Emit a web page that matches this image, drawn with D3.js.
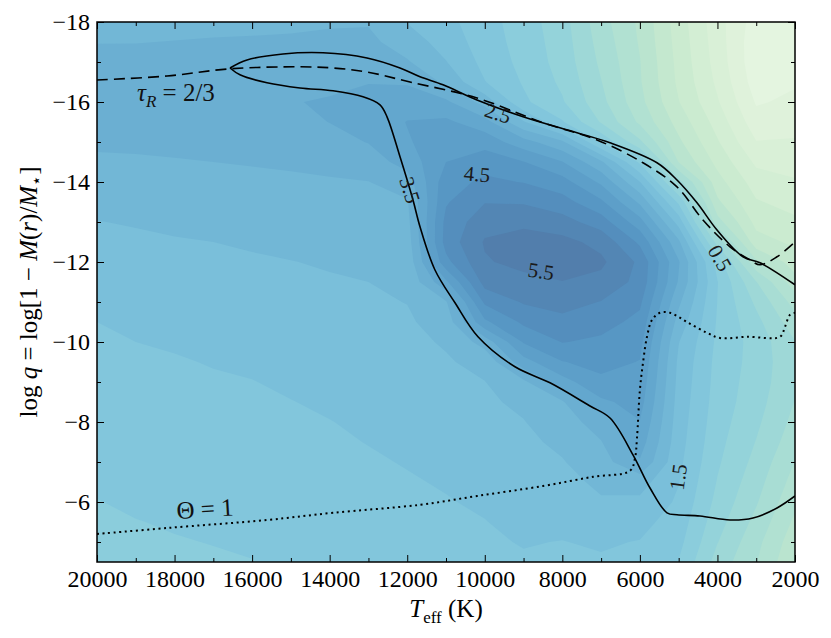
<!DOCTYPE html>
<html>
<head>
<meta charset="utf-8">
<title>log q versus Teff</title>
<script src="https://cdn.jsdelivr.net/npm/d3@7/dist/d3.min.js"></script>
<style>
  html, body { margin: 0; padding: 0; background: #ffffff; }
  svg { display: block; }
  svg text { font-family: 'Liberation Serif', 'DejaVu Serif', 'Times New Roman', serif; }
</style>
</head>
<body>
<svg id="chart"></svg>
<script>
'use strict';

// grid the shaded field was read on: one column per Teff (K), one row per log q
var teffGrid = [20000, 19000, 18000, 17000, 16000, 15000, 14000, 13000, 12000, 11000,
                10000, 9000, 8000, 7000, 6000, 5000, 4000, 3000, 2000];
var logqGrid = [-18, -17.5, -17, -16.5, -16, -15.5, -15, -14.5, -14, -13.5, -13, -12.5, -12, -11.5,
                -11, -10.5, -10, -9.5, -9, -8.5, -8, -7.5, -7, -6.5, -6, -5.5, -5, -4.5];

// estimated field values, row by row (same order as logqGrid)
var fieldRows = [
    [2.35, 2.38, 2.38, 2.40, 2.41, 2.42, 2.45, 2.46, 1.98, 1.65, 1.20, 0.75, 0.20, -0.80, -1.60, -2.75, -3.80, -4.75, -4.80],
    [2.49, 2.49, 2.51, 2.53, 2.54, 2.56, 2.60, 2.62, 2.25, 1.80, 1.25, 0.80, 0.25, -0.70, -1.55, -2.70, -3.75, -4.85, -4.80],
    [2.61, 2.62, 2.64, 2.66, 2.68, 2.70, 2.75, 2.80, 2.55, 2.02, 1.35, 0.85, 0.30, -0.60, -1.48, -2.65, -3.70, -4.85, -4.70],
    [2.73, 2.75, 2.77, 2.79, 2.81, 2.84, 2.90, 2.98, 2.95, 2.40, 1.52, 0.95, 0.40, -0.48, -1.45, -2.60, -3.60, -4.75, -4.55],
    [2.85, 2.87, 2.90, 2.92, 2.95, 2.98, 3.04, 3.18, 3.25, 3.10, 2.30, 1.10, 0.55, -0.35, -1.35, -2.48, -3.45, -4.55, -4.40],
    [2.71, 2.73, 2.76, 2.78, 2.81, 2.84, 3.01, 3.15, 3.52, 3.60, 3.20, 2.05, 1.05, -0.05, -1.10, -2.20, -3.20, -4.30, -4.20],
    [2.57, 2.59, 2.61, 2.64, 2.67, 2.70, 2.83, 3.02, 3.45, 3.80, 3.80, 3.20, 2.60, 0.95, -0.40, -1.90, -2.95, -3.98, -3.95],
    [2.43, 2.44, 2.47, 2.50, 2.53, 2.56, 2.61, 2.75, 3.20, 4.00, 4.30, 4.02, 3.52, 2.60, 0.90, -1.52, -2.65, -3.60, -3.70],
    [2.28, 2.31, 2.34, 2.38, 2.40, 2.43, 2.46, 2.49, 2.75, 4.30, 4.60, 4.48, 4.20, 3.40, 2.02, -0.30, -2.30, -3.25, -3.45],
    [2.13, 2.17, 2.21, 2.25, 2.29, 2.32, 2.35, 2.39, 2.45, 4.45, 4.98, 4.95, 4.70, 4.10, 2.90, 0.90, -1.90, -2.95, -3.20],
    [1.99, 2.03, 2.08, 2.13, 2.17, 2.21, 2.25, 2.29, 2.35, 4.65, 5.30, 5.40, 5.20, 4.75, 3.70, 1.80, -1.30, -2.65, -2.90],
    [1.89, 1.93, 1.97, 2.00, 2.05, 2.10, 2.15, 2.20, 2.25, 4.70, 5.55, 5.70, 5.65, 5.35, 4.40, 2.60, -0.20, -2.30, -2.60],
    [1.79, 1.84, 1.88, 1.92, 1.95, 1.99, 2.04, 2.10, 2.15, 4.35, 5.45, 5.65, 5.85, 5.60, 4.90, 3.05, 0.80, -1.40, -2.25],
    [1.70, 1.76, 1.80, 1.84, 1.88, 1.92, 1.96, 2.00, 2.08, 3.40, 5.20, 5.35, 5.48, 5.35, 4.85, 2.95, 1.02, -0.48, -1.80],
    [1.60, 1.67, 1.71, 1.76, 1.80, 1.85, 1.89, 1.94, 2.01, 2.45, 4.60, 5.05, 5.20, 4.98, 4.60, 2.60, 0.99, -0.10, -1.20],
    [1.50, 1.59, 1.63, 1.68, 1.72, 1.78, 1.83, 1.88, 1.94, 2.20, 3.90, 4.60, 4.85, 4.70, 4.35, 2.30, 0.95, 0.15, -0.80],
    [1.44, 1.50, 1.54, 1.60, 1.64, 1.70, 1.76, 1.82, 1.88, 2.05, 2.70, 4.05, 4.52, 4.40, 4.15, 2.02, 0.90, 0.30, -0.48],
    [1.39, 1.44, 1.47, 1.52, 1.56, 1.63, 1.69, 1.76, 1.82, 1.95, 2.15, 3.30, 3.98, 4.15, 3.98, 1.90, 0.85, 0.30, -0.40],
    [1.33, 1.39, 1.42, 1.46, 1.49, 1.56, 1.63, 1.70, 1.76, 1.87, 1.99, 2.40, 3.30, 3.90, 3.85, 1.85, 0.82, 0.25, -0.40],
    [1.28, 1.33, 1.36, 1.40, 1.43, 1.49, 1.56, 1.63, 1.70, 1.80, 1.92, 2.10, 2.45, 3.40, 3.70, 1.80, 0.78, 0.20, -0.52],
    [1.22, 1.27, 1.31, 1.35, 1.38, 1.44, 1.49, 1.57, 1.64, 1.73, 1.84, 1.98, 2.30, 2.70, 3.48, 1.75, 0.72, 0.10, -0.65],
    [1.16, 1.22, 1.25, 1.29, 1.32, 1.39, 1.45, 1.51, 1.58, 1.66, 1.77, 1.90, 2.10, 2.48, 3.25, 1.70, 0.65, -0.02, -0.80],
    [1.11, 1.16, 1.20, 1.24, 1.27, 1.34, 1.40, 1.46, 1.52, 1.59, 1.70, 1.83, 1.97, 2.30, 2.95, 1.62, 0.57, -0.15, -1.02],
    [1.05, 1.10, 1.14, 1.18, 1.21, 1.29, 1.35, 1.41, 1.47, 1.53, 1.63, 1.76, 1.85, 2.10, 2.20, 1.52, 0.47, -0.30, -1.20],
    [0.99, 1.05, 1.09, 1.12, 1.16, 1.23, 1.30, 1.37, 1.43, 1.48, 1.55, 1.68, 1.72, 1.95, 1.90, 1.42, 0.35, -0.45, -1.40],
    [0.94, 0.99, 1.03, 1.07, 1.10, 1.18, 1.25, 1.32, 1.38, 1.44, 1.49, 1.60, 1.60, 1.75, 1.65, 1.28, 0.20, -0.65, -1.60],
    [0.88, 0.93, 0.98, 1.01, 1.05, 1.13, 1.20, 1.27, 1.34, 1.40, 1.45, 1.52, 1.49, 1.55, 1.48, 1.15, 0.02, -0.85, -1.80],
    [0.83, 0.88, 0.92, 0.96, 0.99, 1.08, 1.15, 1.22, 1.30, 1.36, 1.41, 1.46, 1.42, 1.45, 1.38, 0.98, -0.20, -0.98, -1.95]
];

// filled contour levels
var fillLevels = [-5.5, -5, -4.5, -4, -3.5, -3, -2.5, -2, -1.5, -1, -0.5, 0,
                  0.5, 1, 1.5, 2, 2.5, 3, 3.5, 4, 4.5, 5, 5.5, 6];

// boundary line, two branches starting at the tip (Teff, log q)
var zoneUpper = [[16570, -16.85], [16132, -17.05], [15203, -17.2], [14172, -17.23], [13037, -17.1],
                 [12186, -16.85], [11670, -16.63], [11077, -16.43], [10201, -16.05], [9014, -15.63],
                 [7622, -15.23], [6771, -14.98], [5559, -14.48], [5043, -14.05], [4527, -13.48],
                 [4011, -12.8], [3341, -12.13], [2903, -11.98], [2000, -11.43]];
var zoneLower = [[16570, -16.85], [16313, -16.68], [15616, -16.48], [14765, -16.35], [13914, -16.28],
                 [13140, -16.13], [12702, -15.93], [12521, -15.63], [12186, -14.63], [11851, -13.55],
                 [11670, -12.88], [11284, -11.8], [10768, -10.98], [10175, -10.13], [9221, -9.38],
                 [8318, -8.98], [7287, -8.4], [6771, -8.1], [6178, -7.18], [5739, -6.35], [5301, -5.73],
                 [5043, -5.68], [4450, -5.65], [3676, -5.55], [3083, -5.6], [2464, -5.85], [2000, -6.15]];
// tau_R = 2/3
var photosphere = [[20000, -16.55], [18195, -16.65], [16570, -16.83], [14765, -16.88], [13914, -16.85],
                   [13037, -16.75], [11928, -16.5], [10201, -16.1], [8499, -15.48], [7106, -15.05],
                   [5920, -14.48], [5043, -13.88], [4373, -13.05], [3676, -12.38], [3160, -12.05],
                   [2903, -11.93], [2465, -12.13], [2000, -12.5]];
// Theta = 1
var thetaOne = [[20000, -5.2], [18195, -5.35], [15616, -5.55], [13914, -5.73], [11670, -5.93],
                [10201, -6.15], [8499, -6.4], [7210, -6.63], [6255, -6.78], [6126, -7.1], [6075, -7.6],
                [6000, -8.8], [5920, -9.48], [5817, -10.13], [5688, -10.55], [5482, -10.73], [5224, -10.73],
                [4785, -10.5], [4270, -10.23], [3934, -10.1], [3238, -10.13], [2388, -10.13],
                [2258, -10.38], [2129, -10.68], [2000, -10.73]];

// contour labels
var clabelText = ['0.5', '1.5', '2.5', '3.5', '4.5', '5.5'];
var clabelTeff = [3934, 5017, 9659, 11928, 10200, 8550];
var clabelLogq = [-12.1, -6.625, -15.725, -13.8, -14.2, -11.775];

var xMajorTicks = [20000, 18000, 16000, 14000, 12000, 10000, 8000, 6000, 4000, 2000];
var xMinorTicks = [19000, 17000, 15000, 13000, 11000, 9000, 7000, 5000, 3000];
var yMajorTicks = [-18, -16, -14, -12, -10, -8, -6];
var yMinorTicks = [-17, -15, -13, -11, -9, -7, -5];

function render() {

    var W = 831;
    var H = 638;
    var d3 = window.d3;
    var serif = "'Liberation Serif', 'DejaVu Serif', 'Times New Roman', serif";

    var svg = d3.select('#chart').attr('width', W).attr('height', H);

    var x = d3.scaleLinear().domain([20000, 2000]).range([97, 795]);
    var y = d3.scaleLinear().domain([-18, -4.5]).range([22, 562]);
    var gnbu = d3.scaleSequential(d3.interpolateGnBu).domain([-7, 6]);

    // contourf-like fill: colour of the band's midpoint, washed at 70% over white
    function bandFill(lo) {
        return d3.interpolateRgb('#ffffff', gnbu(lo + 0.25))(0.7);
    }

    svg.append('defs').append('clipPath').attr('id', 'plotclip')
        .append('rect').attr('x', 97).attr('y', 22).attr('width', 698).attr('height', 540);

    var plot = svg.append('g').attr('clip-path', 'url(#plotclip)');

    // filled contours
    var nx = teffGrid.length;
    var ny = logqGrid.length;
    var values = d3.merge(fieldRows);
    var bands = d3.contours().size([nx, ny]).thresholds(fillLevels)(values);
    var dT = teffGrid[1] - teffGrid[0];
    var dq = logqGrid[1] - logqGrid[0];
    var toPlot = d3.geoTransform({
        point: function (gx, gy) {
            this.stream.point(x(teffGrid[0] + (gx - 0.5) * dT), y(logqGrid[0] + (gy - 0.5) * dq));
        }
    });
    var gridPath = d3.geoPath().projection(toPlot);

    plot.selectAll('.band').data(bands).enter().append('path')
        .attr('class', 'band')
        .attr('d', gridPath)
        .attr('fill', function (d) { return bandFill(d.value); })
        .attr('stroke', 'none');

    // lines
    var line = d3.line()
        .x(function (d) { return x(d[0]); })
        .y(function (d) { return y(d[1]); })
        .curve(d3.curveCatmullRom.alpha(0.5));

    plot.append('path').attr('d', line(zoneUpper))
        .attr('fill', 'none').attr('stroke', '#000').attr('stroke-width', 1.6);
    plot.append('path').attr('d', line(zoneLower))
        .attr('fill', 'none').attr('stroke', '#000').attr('stroke-width', 1.6);
    plot.append('path').attr('d', line(photosphere))
        .attr('fill', 'none').attr('stroke', '#000').attr('stroke-width', 1.6)
        .attr('stroke-dasharray', '11,6');
    plot.append('path').attr('d', line(thetaOne))
        .attr('fill', 'none').attr('stroke', '#000').attr('stroke-width', 2)
        .attr('stroke-dasharray', '2,3.6');

    // contour labels
    var clabelAngle = [60, -82, 18, 72, 5, 8];
    plot.selectAll('.clabel').data(clabelText).enter().append('text')
        .attr('class', 'clabel')
        .attr('transform', function (d, i) {
            return 'translate(' + x(clabelTeff[i]) + ',' + y(clabelLogq[i]) + ') rotate(' + clabelAngle[i] + ')';
        })
        .attr('text-anchor', 'middle')
        .attr('dy', '0.35em')
        .style('font-family', serif)
        .attr('font-size', 21)
        .attr('fill', '#1a1a1a')
        .text(function (d) { return d; });

    // tau_R = 2/3
    var tau = plot.append('text')
        .attr('x', x(18970)).attr('y', y(-16.03))
        .style('font-family', serif).attr('font-size', 25).attr('fill', '#111');
    tau.append('tspan').attr('font-style', 'italic').text('τ');
    tau.append('tspan').attr('font-style', 'italic').attr('font-size', 17).attr('dy', 6).text('R');
    tau.append('tspan').attr('dy', -6).text(' = 2/3');

    // Theta = 1
    plot.append('text')
        .attr('transform', 'translate(' + x(17937) + ',' + y(-5.575) + ') rotate(-3.5)')
        .style('font-family', serif).attr('font-size', 25).attr('fill', '#111')
        .text('Θ = 1');

    // axes, ticks pointing inwards on all four sides
    function styleAxis(g) {
        g.attr('font-family', null);
        g.select('.domain').remove();
        g.selectAll('line').attr('stroke', '#000').attr('stroke-width', 1);
        g.selectAll('text').style('font-family', serif).attr('font-size', 24).attr('fill', '#000');
    }

    svg.append('g').attr('transform', 'translate(0,562)')
        .call(d3.axisBottom(x).tickValues(xMajorTicks).tickSize(-7).tickPadding(8).tickFormat(d3.format('d')))
        .call(styleAxis);
    svg.append('g').attr('transform', 'translate(0,562)')
        .call(d3.axisBottom(x).tickValues(xMinorTicks).tickSize(-4).tickFormat(''))
        .call(styleAxis);
    svg.append('g').attr('transform', 'translate(0,22)')
        .call(d3.axisTop(x).tickValues(xMajorTicks).tickSize(-7).tickFormat(''))
        .call(styleAxis);
    svg.append('g').attr('transform', 'translate(0,22)')
        .call(d3.axisTop(x).tickValues(xMinorTicks).tickSize(-4).tickFormat(''))
        .call(styleAxis);
    svg.append('g').attr('transform', 'translate(97,0)')
        .call(d3.axisLeft(y).tickValues(yMajorTicks).tickSize(-7).tickPadding(7).tickFormat(d3.format('d')))
        .call(styleAxis);
    svg.append('g').attr('transform', 'translate(97,0)')
        .call(d3.axisLeft(y).tickValues(yMinorTicks).tickSize(-4).tickFormat(''))
        .call(styleAxis);
    svg.append('g').attr('transform', 'translate(795,0)')
        .call(d3.axisRight(y).tickValues(yMajorTicks).tickSize(-7).tickFormat(''))
        .call(styleAxis);
    svg.append('g').attr('transform', 'translate(795,0)')
        .call(d3.axisRight(y).tickValues(yMinorTicks).tickSize(-4).tickFormat(''))
        .call(styleAxis);

    svg.append('rect')
        .attr('x', 97).attr('y', 22).attr('width', 698).attr('height', 540)
        .attr('fill', 'none').attr('stroke', '#000').attr('stroke-width', 1.5);

    // axis titles
    var xt = svg.append('text')
        .attr('x', 446).attr('y', 617)
        .attr('text-anchor', 'middle')
        .style('font-family', serif).attr('font-size', 25).attr('fill', '#000');
    xt.append('tspan').attr('font-style', 'italic').text('T');
    xt.append('tspan').attr('font-size', 17).attr('dy', 6).text('eff');
    xt.append('tspan').attr('dy', -6).text(' (K)');

    var yt = svg.append('text')
        .attr('transform', 'translate(37,292) rotate(-90)')
        .attr('text-anchor', 'middle')
        .style('font-family', serif).attr('font-size', 25).attr('fill', '#000');
    yt.append('tspan').text('log ');
    yt.append('tspan').attr('font-style', 'italic').text('q');
    yt.append('tspan').text(' = log[1 − ');
    yt.append('tspan').attr('font-style', 'italic').text('M');
    yt.append('tspan').text('(');
    yt.append('tspan').attr('font-style', 'italic').text('r');
    yt.append('tspan').text(')/');
    yt.append('tspan').attr('font-style', 'italic').text('M');
    yt.append('tspan').attr('font-size', 17).attr('dy', 5).text('⋆');
    yt.append('tspan').attr('dy', -5).text(']');
}

render();
</script>
</body>
</html>
